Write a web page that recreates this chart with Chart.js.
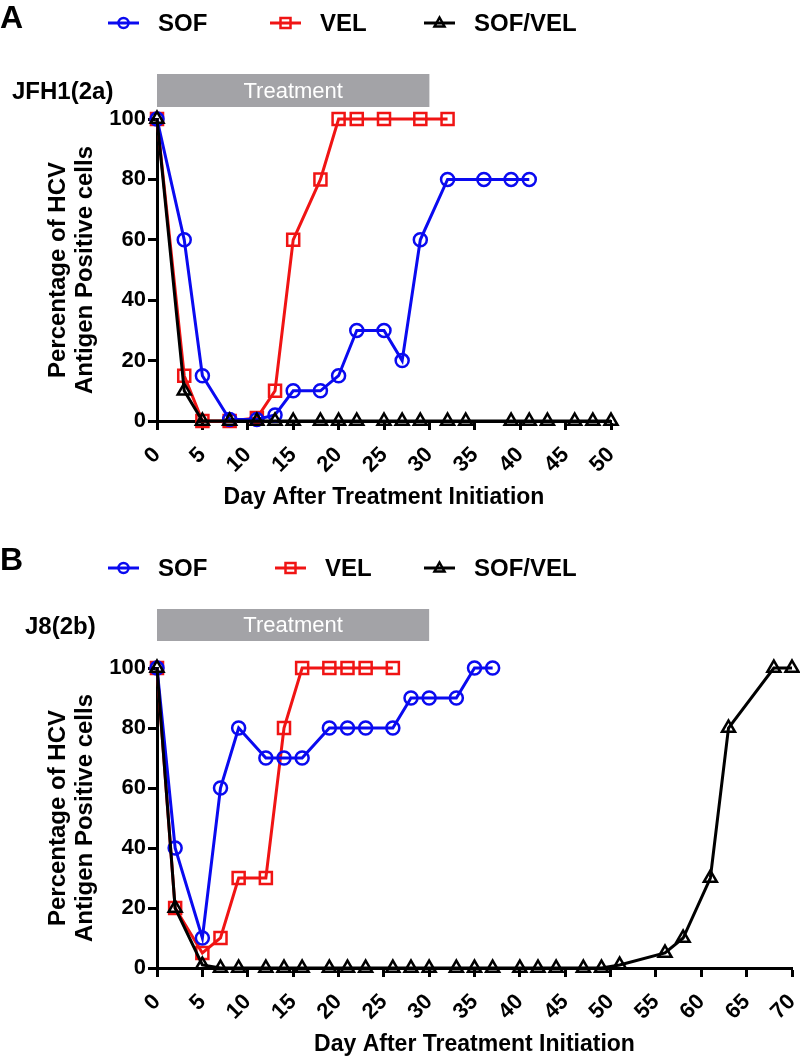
<!DOCTYPE html>
<html>
<head>
<meta charset="utf-8">
<script src="https://cdn.jsdelivr.net/npm/chart.js@4.4.0/dist/chart.umd.min.js"></script>
<style>
  html, body { margin: 0; padding: 0; background: #fff; }
  #wrap { position: relative; width: 800px; height: 1061px; }
  canvas { position: absolute; left: 0; }
</style>
</head>
<body>
<div id="wrap">
  <canvas id="chartA" width="800" height="530" style="top:0"></canvas>
  <canvas id="chartB" width="800" height="531" style="top:530px"></canvas>
</div>
<script>
// series names (legend order)
const seriesNames = ['SOF', 'VEL', 'SOF/VEL'];
const treatmentDays = [0, 30];

// Panel A - JFH1(2a)
const sofDaysA = [0, 3, 5, 8, 11, 13, 15, 18, 20, 22, 25, 27, 29, 32, 36, 39, 41];
const sofA = [100, 60, 15, 0.5, 0.5, 2, 10, 10, 15, 30, 30, 20, 60, 80, 80, 80, 80];
const velDaysA = [0, 3, 5, 8, 11, 13, 15, 18, 20, 22, 25, 29, 32];
const velA = [100, 15, 0, 0, 1, 10, 60, 80, 100, 100, 100, 100, 100];
const comboDaysA = [0, 3, 5, 8, 11, 13, 15, 18, 20, 22, 25, 27, 29, 32, 34, 39, 41, 43, 46, 48, 50];
const comboA = [100, 10, 0, 0, 0, 0, 0, 0, 0, 0, 0, 0, 0, 0, 0, 0, 0, 0, 0, 0, 0];

// Panel B - J8(2b)
const sofDaysB = [0, 2, 5, 7, 9, 12, 14, 16, 19, 21, 23, 26, 28, 30, 33, 35, 37];
const sofB = [100, 40, 10, 60, 80, 70, 70, 70, 80, 80, 80, 80, 90, 90, 90, 100, 100];
const velDaysB = [0, 2, 5, 7, 9, 12, 14, 16, 19, 21, 23, 26];
const velB = [100, 20, 5, 10, 30, 30, 80, 100, 100, 100, 100, 100];
const comboDaysB = [0, 2, 5, 7, 9, 12, 14, 16, 19, 21, 23, 26, 28, 30, 33, 35, 37, 40, 42, 44, 47, 49, 51, 56, 58, 61, 63, 68, 70];
const comboB = [100, 20, 1, 0, 0, 0, 0, 0, 0, 0, 0, 0, 0, 0, 0, 0, 0, 0, 0, 0, 0, 0, 1, 5, 10, 30, 80, 100, 100];

const FONT = '"Liberation Sans", Arial, Helvetica, sans-serif';
const styles = {
  'SOF': { color: '#0a0af0', pointStyle: 'circle', radius: 6.5, order: 1 },
  'VEL': { color: '#f01414', pointStyle: 'rect', radius: 8.5, order: 2 },
  'SOF/VEL': { color: '#000000', pointStyle: 'triangle', radius: 7.5, order: 0 }
};

function toPoints(days, vals) {
  return days.map((d, i) => ({ x: d, y: vals[i] }));
}

function makeDataset(name, days, vals) {
  const s = styles[name];
  return {
    label: name,
    data: toPoints(days, vals),
    borderColor: s.color,
    backgroundColor: 'rgba(0,0,0,0)',
    borderWidth: 3,
    pointStyle: s.pointStyle,
    pointRadius: s.radius,
    pointBorderWidth: 2.5,
    pointBorderColor: s.color,
    pointBackgroundColor: 'rgba(0,0,0,0)',
    tension: 0,
    clip: false,
    order: s.order
  };
}

// small marker for the legend
function drawMarker(ctx, style, x, y, r) {
  ctx.beginPath();
  if (style === 'circle') {
    ctx.arc(x, y, r, 0, Math.PI * 2);
  } else if (style === 'rect') {
    ctx.rect(x - r, y - r, 2 * r, 2 * r);
  } else {
    ctx.moveTo(x, y - r * 1.1);
    ctx.lineTo(x + r, y + r * 0.7);
    ctx.lineTo(x - r, y + r * 0.7);
    ctx.closePath();
  }
  ctx.stroke();
}

const decorPlugin = {
  id: 'decor',
  afterDraw(chart, args, opts) {
    const { ctx } = chart;
    const xs = chart.scales.x;
    ctx.save();

    // treatment bar
    const x0 = xs.getPixelForValue(treatmentDays[0]);
    const x1 = xs.getPixelForValue(treatmentDays[1]);
    ctx.fillStyle = '#a3a3a7';
    ctx.fillRect(x0, opts.barTop, x1 - x0, opts.barHeight);
    ctx.fillStyle = '#ffffff';
    ctx.font = '22px ' + FONT;
    ctx.textAlign = 'center';
    ctx.textBaseline = 'middle';
    ctx.fillText('Treatment', (x0 + x1) / 2, opts.barTop + opts.barHeight / 2 + 1);

    // panel letter and strain
    ctx.fillStyle = '#000';
    ctx.textAlign = 'left';
    ctx.font = 'bold 32px ' + FONT;
    ctx.fillText(opts.letter, 0, opts.letterY);
    ctx.font = 'bold 24px ' + FONT;
    ctx.fillText(opts.strain, opts.strainX, opts.strainY);

    // legend
    seriesNames.forEach((name, i) => {
      const s = styles[name];
      const lx = opts.legendX[i];
      const ly = opts.legendY;
      ctx.strokeStyle = s.color;
      ctx.lineWidth = 3;
      ctx.beginPath();
      ctx.moveTo(lx, ly);
      ctx.lineTo(lx + 31, ly);
      ctx.stroke();
      ctx.lineWidth = 2.5;
      drawMarker(ctx, s.pointStyle, lx + 15.5, ly, 5);
      ctx.fillStyle = '#000';
      ctx.font = 'bold 24px ' + FONT;
      ctx.fillText(name, lx + 50, ly + 1);
    });
    ctx.restore();
  }
};

function makeChart(id, cfg) {
  const ctx = document.getElementById(id).getContext('2d');
  return new Chart(ctx, {
    type: 'line',
    data: {
      datasets: [
        makeDataset('SOF', cfg.sofDays, cfg.sof),
        makeDataset('VEL', cfg.velDays, cfg.vel),
        makeDataset('SOF/VEL', cfg.comboDays, cfg.combo)
      ]
    },
    options: {
      responsive: false,
      animation: false,
      events: [],
      layout: {
        autoPadding: false,
        padding: { left: 0, top: cfg.top, right: cfg.right, bottom: 0 }
      },
      plugins: {
        legend: { display: false },
        tooltip: { enabled: false },
        decor: cfg.decor
      },
      scales: {
        x: {
          type: 'linear',
          min: 0,
          max: cfg.xMax,
          afterFit: (scale) => {
            scale.height = cfg.xHeight;
            scale.paddingLeft = 0;
            scale.paddingRight = 0;
          },
          border: { color: '#000', width: 3 },
          grid: { drawOnChartArea: false, drawTicks: true, tickLength: 9, tickWidth: 3, tickColor: '#000' },
          ticks: {
            stepSize: 5,
            maxRotation: 45,
            minRotation: 45,
            padding: 12,
            color: '#000',
            font: { family: FONT, size: 22, weight: 'bold' }
          },
          title: {
            display: true,
            text: 'Day After Treatment Initiation',
            color: '#000',
            font: { family: FONT, size: 23, weight: 'bold', lineHeight: 1.125 },
            padding: { top: 0, bottom: cfg.xTitlePad }
          }
        },
        y: {
          min: 0,
          max: 100,
          afterFit: (scale) => { scale.width = 157; },
          border: { color: '#000', width: 3 },
          grid: { drawOnChartArea: false, drawTicks: true, tickLength: 9, tickWidth: 3, tickColor: '#000' },
          ticks: {
            stepSize: 20,
            padding: 2,
            color: '#000',
            font: { family: FONT, size: 22, weight: 'bold' }
          },
          title: {
            display: true,
            text: ['Percentage of HCV', 'Antigen Positive cells'],
            color: '#000',
            font: { family: FONT, size: 24, weight: 'bold', lineHeight: 1.125 },
            padding: { top: 45, bottom: 0 }
          }
        }
      }
    },
    plugins: [decorPlugin]
  });
}

makeChart('chartA', {
  sofDays: sofDaysA, sof: sofA, velDays: velDaysA, vel: velA, comboDays: comboDaysA, combo: comboA,
  xMax: 50, top: 119, right: 189, xHeight: 109, xTitlePad: 19,
  decor: { letter: 'A', letterY: 19, strain: 'JFH1(2a)', strainX: 12, strainY: 92,
           legendX: [108, 270, 424], legendY: 23, barTop: 74, barHeight: 33 }
});

makeChart('chartB', {
  sofDays: sofDaysB, sof: sofB, velDays: velDaysB, vel: velB, comboDays: comboDaysB, combo: comboB,
  xMax: 70, top: 138, right: 8, xHeight: 93, xTitlePad: 3,
  decor: { letter: 'B', letterY: 31, strain: 'J8(2b)', strainX: 25, strainY: 97,
           legendX: [108, 275, 424], legendY: 38, barTop: 79, barHeight: 32 }
});
</script>
</body>
</html>
